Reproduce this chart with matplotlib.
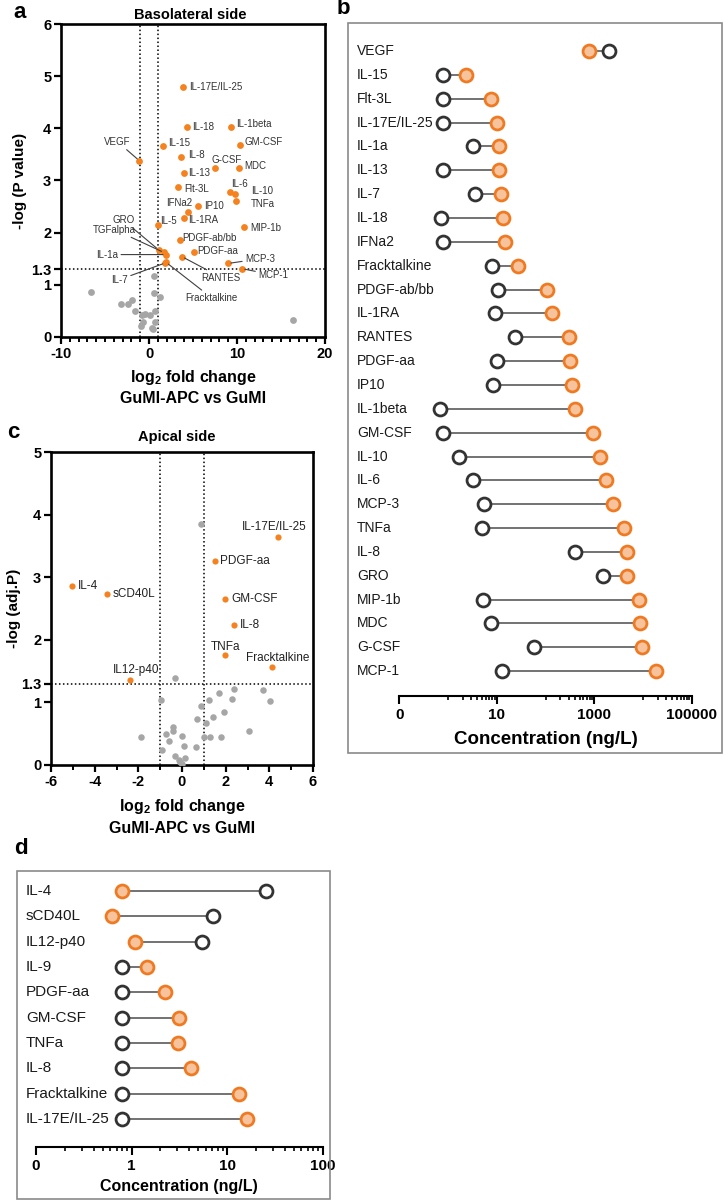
import matplotlib
matplotlib.use('Agg')
import matplotlib.pyplot as plt
import numpy as np
from matplotlib.transforms import blended_transform_factory
from matplotlib.patches import Rectangle

plt.rcParams['font.family'] = ['Liberation Sans', 'DejaVu Sans']
plt.rcParams['mathtext.fontset'] = 'custom'
plt.rcParams['mathtext.rm'] = 'Liberation Sans'
plt.rcParams['mathtext.bf'] = 'Liberation Sans:bold'

# ---------------- Data ----------------
# Panel a: basolateral volcano
a_sig_names = ['IL-17E/IL-25', 'IL-18', 'IL-1beta', 'VEGF', 'IL-15', 'GM-CSF', 'IL-8', 'G-CSF', 'MDC',
               'IL-13', 'Flt-3L', 'IL-6', 'IL-10', 'TNFa', 'IFNa2', 'IP10', 'IL-1RA', 'IL-5', 'MIP-1b',
               'PDGF-ab/bb', 'GRO', 'TGFalpha', 'IL-1a', 'PDGF-aa', 'RANTES', 'MCP-3', 'IL-7',
               'Fracktalkine', 'MCP-1']
a_sig_x = [3.83, 4.35, 9.28, -1.10, 1.63, 10.3, 3.67, 7.5, 10.26, 3.98, 3.33, 9.2, 9.74, 9.89, 4.40,
           5.57, 4.01, 1.02, 10.83, 3.52, 1.10, 1.70, 1.90, 5.11, 3.75, 9.0, 1.85, 1.95, 10.57]
a_sig_y = [4.80, 4.03, 4.03, 3.38, 3.66, 3.68, 3.45, 3.24, 3.24, 3.15, 2.88, 2.78, 2.75, 2.61, 2.40,
           2.51, 2.29, 2.15, 2.10, 1.85, 1.67, 1.62, 1.58, 1.62, 1.54, 1.41, 1.42, 1.43, 1.31]
a_ns_x = [-6.6, 0.57, 0.57, 1.25, -1.97, -2.35, -3.22, -1.59, -0.45, 0.11, 0.68, -0.83, -0.72,
          -0.91, 0.68, 0.30, 0.49, 16.4]
a_ns_y = [0.86, 1.16, 0.85, 0.76, 0.71, 0.64, 0.63, 0.50, 0.45, 0.43, 0.50, 0.42, 0.28, 0.22,
          0.28, 0.18, 0.15, 0.33]

# Panel c: apical volcano
c_sig_names = ['IL-17E/IL-25', 'PDGF-aa', 'IL-4', 'sCD40L', 'GM-CSF', 'IL-8', 'TNFa', 'Fracktalkine', 'IL12-p40']
c_sig_x = [4.38, 1.50, -5.05, -3.45, 1.99, 2.38, 1.99, 4.10, -2.38]
c_sig_y = [3.64, 3.26, 2.86, 2.73, 2.65, 2.23, 1.75, 1.57, 1.36]
c_ns_x = [0.89, -0.31, 2.38, 3.69, 1.71, 2.29, 1.24, 4.03, -0.95, 0.89, 1.94, 1.41, 0.68, 1.12,
          -0.40, -0.40, 3.08, -0.72, -1.86, 0.01, 1.03, 1.29, 1.79, -0.58, 0.08, 0.65, -0.92,
          -0.31, 0.13, -0.16, -0.07, 0.0]
c_ns_y = [3.85, 1.39, 1.22, 1.20, 1.15, 1.06, 1.04, 1.02, 1.04, 0.94, 0.84, 0.77, 0.73, 0.67,
          0.61, 0.55, 0.55, 0.49, 0.45, 0.46, 0.45, 0.45, 0.45, 0.38, 0.30, 0.29, 0.24, 0.14,
          0.11, 0.08, 0.04, 0.02]

# Panel b: basolateral concentrations (ng/L)
b_names = ['VEGF', 'IL-15', 'Flt-3L', 'IL-17E/IL-25', 'IL-1a', 'IL-13', 'IL-7', 'IL-18', 'IFNa2',
           'Fracktalkine', 'PDGF-ab/bb', 'IL-1RA', 'RANTES', 'PDGF-aa', 'IP10', 'IL-1beta', 'GM-CSF',
           'IL-10', 'IL-6', 'MCP-3', 'TNFa', 'IL-8', 'GRO', 'MIP-1b', 'MDC', 'G-CSF', 'MCP-1']
b_gumi = [2040, 0.80, 0.80, 0.80, 3.2, 0.78, 3.6, 0.72, 0.78, 7.9, 10.5, 9.2, 24, 10, 8.3, 0.69,
          0.78, 1.7, 3.2, 5.5, 4.9, 407, 1549, 5.1, 7.6, 59, 13]
b_apc = [794, 2.3, 7.5, 10.2, 11, 11.2, 12.4, 13.5, 14.5, 27, 107, 138, 309, 320, 352, 398, 955,
         1318, 1738, 2455, 4074, 4677, 4786, 8318, 8710, 9772, 18197]

# Panel d: apical concentrations (ng/L)
d_names = ['IL-4', 'sCD40L', 'IL12-p40', 'IL-9', 'PDGF-aa', 'GM-CSF', 'TNFa', 'IL-8', 'Fracktalkine', 'IL-17E/IL-25']
d_gumi = [25.5, 7.1, 5.4, 0.80, 0.80, 0.80, 0.80, 0.80, 0.80, 0.80]
d_apc = [0.80, 0.63, 1.08, 1.44, 2.22, 3.13, 3.09, 4.15, 13.3, 16.0]

# ---------------- Styling / layout ----------------
ORANGE = '#F5821F'
GRAYPT = '#A6A6A6'
LIGHT_OR = '#F7C39C'
EDGE_OR = '#F07A22'
DARK = '#333333'

W, H = 724, 1200
fig = plt.figure(figsize=(W / 100, H / 100), dpi=100)


def px_axes(x0, y0, x1, y1):
    return fig.add_axes([x0 / W, 1 - y1 / H, (x1 - x0) / W, (y1 - y0) / H])


def style_volcano(ax, xlim, xmaj, xmin, ylim, ymaj, ylab):
    ax.set_xlim(*xlim)
    ax.set_ylim(*ylim)
    for s in ax.spines.values():
        s.set_linewidth(1.9)
        s.set_color('black')
    ax.set_xticks(xmaj, [str(v) for v in xmaj], fontweight='bold', fontsize=10.5)
    ax.set_xticks(xmin, minor=True)
    ax.set_yticks(ymaj, ylab, fontweight='bold', fontsize=10.5)
    ax.tick_params(axis='both', which='major', direction='out', length=5, width=1.6, pad=2)
    ax.tick_params(axis='x', which='minor', direction='out', length=3.5, width=1.4)
    ax.axvline(-1, color='black', ls=(0, (1, 1.6)), lw=1.1, zorder=1)
    ax.axvline(1, color='black', ls=(0, (1, 1.6)), lw=1.1, zorder=1)
    ax.axhline(1.3, color='black', ls=(0, (1, 1.6)), lw=1.1, zorder=1)


# ---------------- Panel a ----------------
axa = px_axes(61, 24, 325, 337)
style_volcano(axa, (-10, 20), [-10, 0, 10, 20], np.arange(-10, 21, 1), (0, 6),
              [0, 1, 1.3, 2, 3, 4, 5, 6], ['0', '1', '1.3', '2', '3', '4', '5', '6'])
axa.scatter(a_ns_x, a_ns_y, s=24, color=GRAYPT, zorder=3, linewidths=0)
axa.scatter(a_sig_x, a_sig_y, s=24, color=ORANGE, zorder=4, linewidths=0)

# label positions: (x, y, ha, line)
a_lab = {
    'IL-17E/IL-25': (4.55, 4.80, 'left', False), 'IL-18': (4.92, 4.03, 'left', False),
    'IL-1beta': (9.85, 4.09, 'left', False), 'VEGF': (-3.56, 3.74, 'center', True),
    'IL-15': (2.12, 3.71, 'left', False), 'GM-CSF': (10.83, 3.74, 'left', False),
    'IL-8': (4.4, 3.48, 'left', False), 'G-CSF': (8.83, 3.39, 'center', False),
    'MDC': (10.83, 3.28, 'left', False), 'IL-13': (4.4, 3.15, 'left', False),
    'Flt-3L': (4.01, 2.84, 'left', False), 'IL-6': (10.27, 2.93, 'center', False),
    'IL-10': (11.55, 2.80, 'left', False), 'TNFa': (11.55, 2.54, 'left', False),
    'IFNa2': (3.47, 2.56, 'center', False), 'IP10': (6.25, 2.51, 'left', False),
    'IL-1RA': (4.4, 2.24, 'left', False), 'IL-5': (1.25, 2.23, 'left', False),
    'MIP-1b': (11.55, 2.09, 'left', False), 'PDGF-ab/bb': (3.83, 1.89, 'left', False),
    'GRO': (-2.92, 2.24, 'center', True), 'TGFalpha': (-3.94, 2.06, 'center', True),
    'IL-1a': (-4.74, 1.58, 'center', True), 'PDGF-aa': (5.53, 1.65, 'left', False),
    'RANTES': (8.22, 1.14, 'center', True), 'MCP-3': (12.6, 1.50, 'center', True),
    'IL-7': (-3.33, 1.10, 'center', True), 'Fracktalkine': (7.12, 0.75, 'center', True),
    'MCP-1': (14.1, 1.19, 'center', True),
}
for n, x, y in zip(a_sig_names, a_sig_x, a_sig_y):
    tx, ty, ha, line = a_lab[n]
    if line:
        axa.annotate(n, xy=(x, y), xytext=(tx, ty), ha=ha, va='center', fontsize=7, color=DARK,
                     arrowprops=dict(arrowstyle='-', color='#404040', lw=0.8, shrinkA=0, shrinkB=2),
                     zorder=5)
    else:
        axa.text(tx, ty, n, ha=ha, va='center', fontsize=7, color=DARK, zorder=5)

axa.set_ylabel('-log (P value)', fontweight='bold', fontsize=11)
axa.yaxis.set_label_coords(-0.128, 0.5)
axa.text(0.5, -0.128, r'log$_{\mathbf{2}}$ fold change', transform=axa.transAxes, ha='center',
         va='center', fontweight='bold', fontsize=11.5)
axa.text(0.5, -0.196, 'GuMI-APC vs GuMI', transform=axa.transAxes, ha='center', va='center',
         fontweight='bold', fontsize=11.5)
fig.text(190 / W, 1 - 15 / H, 'Basolateral side', ha='center', va='center', fontweight='bold', fontsize=10.5)
fig.text(20 / W, 1 - 12 / H, 'a', ha='center', va='center', fontweight='bold', fontsize=16)

# ---------------- Panel c ----------------
axc = px_axes(51, 452, 313, 765)
style_volcano(axc, (-6, 6), [-6, -4, -2, 0, 2, 4, 6], [-5, -3, -1, 1, 3, 5], (0, 5),
              [0, 1, 1.3, 2, 3, 4, 5], ['0', '1', '1.3', '2', '3', '4', '5'])
axc.scatter(c_ns_x, c_ns_y, s=22, color=GRAYPT, zorder=3, linewidths=0)
axc.scatter(c_sig_x, c_sig_y, s=20, color=ORANGE, zorder=4, linewidths=0)
c_lab = {
    'IL-17E/IL-25': (4.22, 3.80, 'center'), 'PDGF-aa': (1.76, 3.26, 'left'),
    'IL-4': (-4.79, 2.86, 'left'), 'sCD40L': (-3.19, 2.73, 'left'),
    'GM-CSF': (2.26, 2.65, 'left'), 'IL-8': (2.67, 2.23, 'left'),
    'TNFa': (2.0, 1.88, 'center'), 'Fracktalkine': (4.37, 1.71, 'center'),
    'IL12-p40': (-2.12, 1.51, 'center'),
}
for n in c_sig_names:
    tx, ty, ha = c_lab[n]
    axc.text(tx, ty, n, ha=ha, va='center', fontsize=8.5, color='#222222', zorder=5)
axc.set_ylabel('-log (adj.P)', fontweight='bold', fontsize=11)
axc.yaxis.set_label_coords(-0.115, 0.5)
axc.text(0.5, -0.133, r'log$_{\mathbf{2}}$ fold change', transform=axc.transAxes, ha='center',
         va='center', fontweight='bold', fontsize=11.5)
axc.text(0.5, -0.204, 'GuMI-APC vs GuMI', transform=axc.transAxes, ha='center', va='center',
         fontweight='bold', fontsize=11.5)
fig.text(177 / W, 1 - 437 / H, 'Apical side', ha='center', va='center', fontweight='bold', fontsize=10.5)
fig.text(13 / W, 1 - 433 / H, 'c', ha='center', va='center', fontweight='bold', fontsize=16)


# ---------------- Lollipop helper ----------------
def lollipop(ax, names, gumi, apc, label_x, ticks, ticklabels, minor, xlim, lab_fs, tick_fs,
             xlabel_y, xlabel_fs, row_top):
    rows = np.arange(len(names))
    ax.hlines(rows, gumi, apc, color='#5a5a5a', lw=1.2, zorder=1)
    ax.plot(gumi, rows, 'o', ms=9.3, mfc='white', mec=DARK, mew=2, zorder=3, ls='none')
    ax.plot(apc, rows, 'o', ms=9.3, mfc=LIGHT_OR, mec=EDGE_OR, mew=2, zorder=3, ls='none')
    ax.set_xscale('log')
    ax.set_xlim(*xlim)
    ax.set_ylim(row_top[1], row_top[0])
    for k in ['left', 'top', 'right']:
        ax.spines[k].set_visible(False)
    ax.spines['bottom'].set_linewidth(1.5)
    ax.set_yticks([])
    ax.set_xticks(ticks, ticklabels, fontweight='bold', fontsize=tick_fs)
    ax.set_xticks(minor, minor=True)
    ax.xaxis.set_minor_formatter(plt.NullFormatter())
    ax.tick_params(axis='x', which='major', direction='out', length=5.5, width=1.5, pad=3)
    ax.tick_params(axis='x', which='minor', direction='out', length=3, width=1.2)
    tr = blended_transform_factory(ax.transAxes, ax.transData)
    for i, n in enumerate(names):
        ax.text(label_x, i, n, transform=tr, ha='left', va='center', fontsize=lab_fs, color='#1a1a1a')
    ax.text(0.5, xlabel_y, 'Concentration (ng/L)', transform=ax.transAxes, ha='center', va='center',
            fontweight='bold', fontsize=xlabel_fs)


# ---------------- Panel b ----------------
fig.patches.append(Rectangle((348 / W, 1 - 753 / H), 374 / W, 730 / H, transform=fig.transFigure,
                             fill=False, ec='#8a8a8a', lw=1.2))
axb = px_axes(399.3, 30, 691.7, 696)
lollipop(axb, b_names, b_gumi, b_apc, (357 - 399.3) / 292.4,
         [0.1, 10, 1000, 100000], ['0', '10', '1000', '100000'],
         [m * 10.0 ** e for e in (0, 2, 4) for m in range(1, 10)], (0.1, 100000),
         10, 11, (696 - 740) / 666, 13.5, (-0.88, 27.04))
fig.text(343 / W, 1 - 9 / H, 'b', ha='center', va='center', fontweight='bold', fontsize=16)

# ---------------- Panel d ----------------
fig.patches.append(Rectangle((17 / W, 1 - 1199 / H), 313 / W, 328 / H, transform=fig.transFigure,
                             fill=False, ec='#8a8a8a', lw=1.2))
axd = px_axes(36, 875, 322.7, 1146.7)
lollipop(axd, d_names, d_gumi, d_apc, (26 - 36) / 286.7,
         [0.1, 1, 10, 100], ['0', '1', '10', '100'],
         [m * 10.0 ** e for e in (-1, 0, 1) for m in range(2, 10)], (0.1, 100),
         11, 11, (1146.7 - 1186.7) / 271.7, 11.5, (-0.62, 10.08))
fig.text(21 / W, 1 - 848 / H, 'd', ha='center', va='center', fontweight='bold', fontsize=16)

fig.savefig('out.png', dpi=100)
